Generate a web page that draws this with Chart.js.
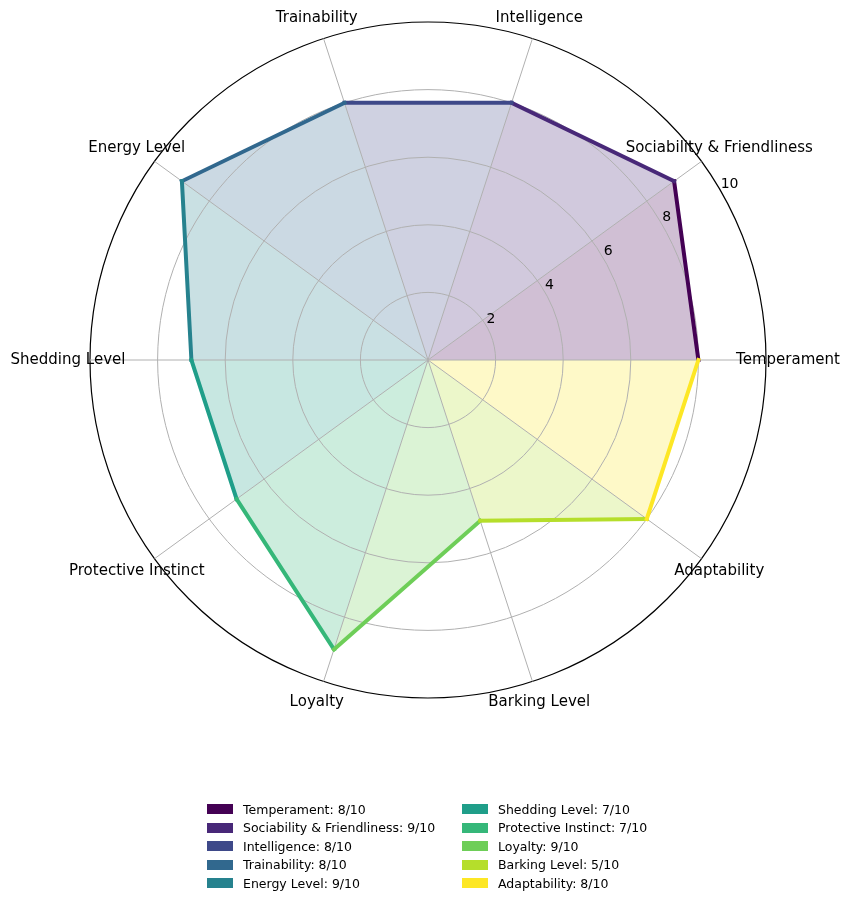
<!DOCTYPE html>
<html>
<head>
<meta charset="utf-8">
<script src="https://cdn.jsdelivr.net/npm/chart.js@4.4.1/dist/chart.umd.min.js"></script>
<style>
    body { margin: 0; background: #fff; font-family: "DejaVu Sans", sans-serif; }
    #wrap { position: relative; width: 850px; height: 906px; }
    #chart { position: absolute; left: 0; top: 0; }
    .legend-item { position: absolute; height: 18px; display: flex; align-items: center; font-size: 12.5px; color: #000; white-space: nowrap; }
    .legend-box { width: 26px; height: 10px; margin-right: 10px; box-sizing: border-box; }
</style>
</head>
<body>
<div id="wrap">
    <canvas id="chart" width="850" height="906"></canvas>
</div>
<script>
// Dog breed trait ratings (out of 10)
const categories = ['Temperament', 'Sociability & Friendliness', 'Intelligence', 'Trainability', 'Energy Level',
    'Shedding Level', 'Protective Instinct', 'Loyalty', 'Barking Level', 'Adaptability'];
const ratings = [8, 9, 8, 8, 9, 7, 7, 9, 5, 8];
const tickValues = [2, 4, 6, 8, 10];
const maxRating = 10;
const colors = ['#440154', '#482878', '#3e4989', '#31688e', '#26828e',
    '#1f9e89', '#35b779', '#6ece58', '#b5de2b', '#fde725'];

const n = categories.length;

// Chart.js goes clockwise, the reference goes counter-clockwise from the right
const pos = k => (n - (k % n)) % n;
const chartLabels = categories.map((_, j) => categories[(n - j) % n]);

function hexToRgba(hex, a) {
    const v = parseInt(hex.slice(1), 16);
    return `rgba(${(v >> 16) & 255}, ${(v >> 8) & 255}, ${v & 255}, ${a})`;
}

// one wedge per trait: from its own point to the next one
const datasets = categories.map((name, k) => {
    const data = new Array(n).fill(null);
    data[pos(k)] = ratings[k];
    data[pos(k + 1)] = ratings[(k + 1) % n];
    return {
        label: `${name}: ${ratings[k]}/10`,
        data: data,
        borderColor: colors[k],
        backgroundColor: hexToRgba(colors[k], 0.25),
        borderWidth: 4,
        borderCapStyle: 'square',
        fill: 'origin',
        spanGaps: false,
        pointRadius: 0,
        pointHoverRadius: 0,
        order: n - k
    };
});

// the grid is only drawn once: above the fills, below the lines
let gridPass = false;
const gridColor = c => !gridPass ? 'rgba(0,0,0,0)' : (c.tick && c.tick.value === maxRating ? '#000000' : '#b0b0b0');

const overlayPlugin = {
    id: 'overlay',
    beforeDatasetsDraw(chart) {
        gridPass = true;
        chart.scales.r.drawGrid();
        gridPass = false;
    },
    afterDraw(chart) {
        const r = chart.scales.r;
        const ctx = chart.ctx;
        ctx.save();
        ctx.fillStyle = '#000';

        // category labels
        ctx.font = '15px "DejaVu Sans"';
        ctx.textAlign = 'center';
        ctx.textBaseline = 'middle';
        categories.forEach((name, k) => {
            const p = r.getPointPosition(pos(k), r.drawingArea + 22);
            ctx.fillText(name, p.x, p.y);
        });

        // radial tick labels at 30 degrees
        ctx.font = '14px "DejaVu Sans"';
        ctx.textAlign = 'left';
        ctx.textBaseline = 'bottom';
        const a = -Math.PI / 6;
        tickValues.forEach(v => {
            const d = r.getDistanceFromCenterForValue(v);
            ctx.fillText(String(v), r.xCenter + Math.cos(a) * d, r.yCenter + Math.sin(a) * d);
        });
        ctx.restore();
    }
};

new Chart(document.getElementById('chart'), {
    type: 'radar',
    data: { labels: chartLabels, datasets: datasets },
    options: {
        responsive: false,
        animation: false,
        layout: { padding: { left: 90, right: 84, top: 22, bottom: 208 } },
        plugins: {
            legend: { display: false },
            tooltip: { enabled: false },
            filler: { drawTime: 'beforeDatasetsDraw' }
        },
        scales: {
            r: {
                min: 0,
                max: maxRating,
                startAngle: 90,
                ticks: { display: false, stepSize: 2 },
                pointLabels: { display: false },
                grid: {
                    circular: true,
                    color: gridColor,
                    lineWidth: c => c.tick && c.tick.value === maxRating ? 1.2 : 1
                },
                angleLines: {
                    color: () => gridPass ? '#b0b0b0' : 'rgba(0,0,0,0)',
                    lineWidth: 1
                }
            }
        }
    },
    plugins: [overlayPlugin]
});

// Legend, two columns filled top to bottom
const wrap = document.getElementById('wrap');
const rows = 5;
datasets.forEach((ds, k) => {
    const item = document.createElement('div');
    item.className = 'legend-item';
    item.style.left = (k < rows ? 207 : 462) + 'px';
    item.style.top = (800 + (k % rows) * 18.5) + 'px';
    const box = document.createElement('span');
    box.className = 'legend-box';
    box.style.background = colors[k];
    const text = document.createElement('span');
    text.textContent = ds.label;
    item.appendChild(box);
    item.appendChild(text);
    wrap.appendChild(item);
});
</script>
</body>
</html>
